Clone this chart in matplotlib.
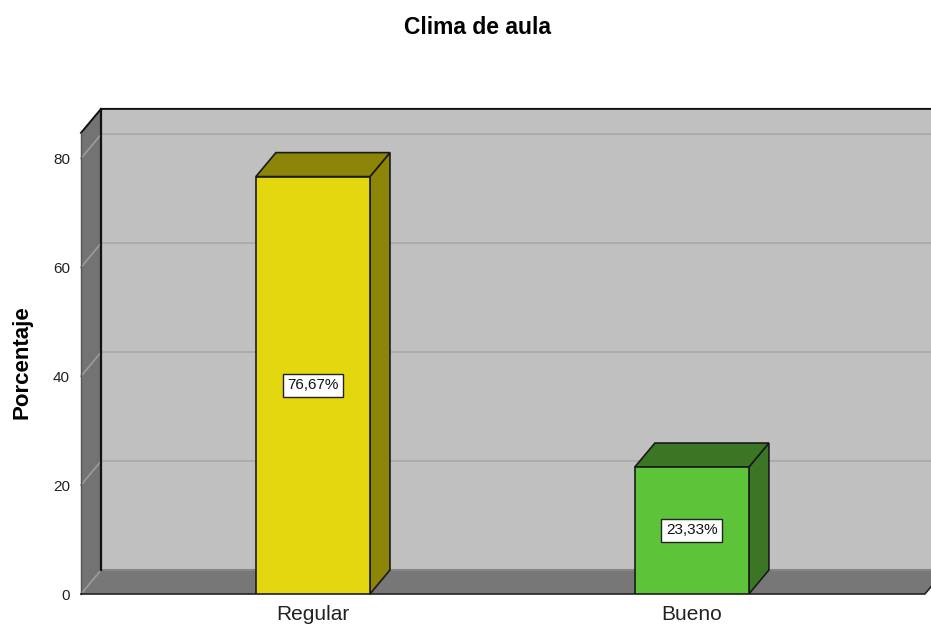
import matplotlib
matplotlib.use("Agg")
import matplotlib.pyplot as plt
from matplotlib.patches import Polygon

plt.rcParams['font.family'] = ['Liberation Sans', 'DejaVu Sans']

# ---- data ----
categories = ["Regular", "Bueno"]
values = [76.67, 23.33]
value_labels = ["76,67%", "23,33%"]
yticks = [0, 20, 40, 60, 80]
title = "Clima de aula"
ylabel = "Porcentaje"

# ---- style ----
front_colors = ["#e3d70f", "#5dc43a"]
dark_colors = ["#8c8507", "#3b7624"]
W, H = 931, 627
fig = plt.figure(figsize=(W / 100, H / 100), dpi=100)
fig.patch.set_facecolor("white")

ax = fig.add_axes([81 / W, 33 / H, 850 / W, 490 / H])
XL, XR = -0.612, 1.631
ax.set_xlim(XL, XR)
ax.set_ylim(0, 90)
for s in ax.spines.values():
    s.set_visible(False)
ax.patch.set_visible(False)

dx, dy = 0.0528, 4.4
wall_h = 84.7
floor_r = 1.615

# back wall
ax.add_patch(Polygon([(XL + dx, dy), (XR, dy), (XR, wall_h + dy), (XL + dx, wall_h + dy)],
                     closed=True, facecolor="#c0c0c0", edgecolor="none", zorder=1, clip_on=False))
# left wall
ax.add_patch(Polygon([(XL, 0), (XL + dx, dy), (XL + dx, wall_h + dy), (XL, wall_h)],
                     closed=True, facecolor="#737373", edgecolor="none", zorder=2, clip_on=False))
# gridlines
for v in yticks[1:]:
    ax.plot([XL + dx, XR], [v + dy, v + dy], color="#acacac", lw=1.4, zorder=1.5, clip_on=False)
    ax.plot([XL, XL + dx], [v, v + dy], color="#9c9c9c", lw=1.2, zorder=2.5, clip_on=False)
# floor
ax.add_patch(Polygon([(XL, 0), (floor_r, 0), (floor_r + dx, dy), (XL + dx, dy)],
                     closed=True, facecolor="#777777", edgecolor="none", zorder=3, clip_on=False))
ax.plot([XL + dx, XR], [dy, dy], color="#858585", lw=1.5, zorder=3.1, clip_on=False)
ax.plot([XL, XL + dx], [0, dy], color="#9c9c9c", lw=1.2, zorder=3.2, clip_on=False)
# edges
ax.plot([XL, floor_r, floor_r + dx], [0, 0, dy], color="#222222", lw=1.2, zorder=3.5, clip_on=False)
ax.plot([XL + dx, XL + dx], [dy, wall_h + dy], color="#111111", lw=1.6, zorder=3.4, clip_on=False)
ax.plot([XL, XL + dx, XR], [wall_h, wall_h + dy, wall_h + dy], color="#111111", lw=1.4, zorder=3.4, clip_on=False)
ax.plot([XL, XL], [0, wall_h], color="#555555", lw=1.0, zorder=3.4, clip_on=False)

# bars
x = list(range(len(categories)))
bw = 0.301
bars = ax.bar(x, values, width=bw, color=front_colors, edgecolor="#1a1a1a", lw=1.2, zorder=6)
for xi, v, dc in zip(x, values, dark_colors):
    xr = xi + bw / 2
    xl = xi - bw / 2
    ax.add_patch(Polygon([(xr, 0), (xr + dx, dy), (xr + dx, v + dy), (xr, v)], closed=True,
                         facecolor=dc, edgecolor="#1a1a1a", lw=1.2, zorder=5, clip_on=False))
    ax.add_patch(Polygon([(xl, v), (xr, v), (xr + dx, v + dy), (xl + dx, v + dy)], closed=True,
                         facecolor=dc, edgecolor="#1a1a1a", lw=1.2, zorder=5, clip_on=False))
for xi, v, lab in zip(x, values, value_labels):
    ax.text(xi, v / 2, lab, ha="center", va="center", fontsize=11, color="#111111", zorder=8,
            bbox=dict(boxstyle="square,pad=0.3", facecolor="white", edgecolor="#222222", lw=1.0))

ax.set_xticks(x)
ax.set_xticklabels(categories, fontsize=15, color="#222222")
ax.set_yticks(yticks)
ax.set_yticklabels([str(t) for t in yticks], fontsize=11, color="#222222")
ax.tick_params(axis="both", length=0)
ax.tick_params(axis="y", pad=8)
ax.tick_params(axis="x", pad=8)

fig.text(478 / W, 1 - 28 / H, title, ha="center", va="center", fontsize=16.5, fontweight="bold")
fig.text(22 / W, 1 - 362 / H, ylabel, ha="center", va="center", rotation=90, fontsize=16, fontweight="bold")

fig.savefig("out.png", dpi=100, facecolor="white")
